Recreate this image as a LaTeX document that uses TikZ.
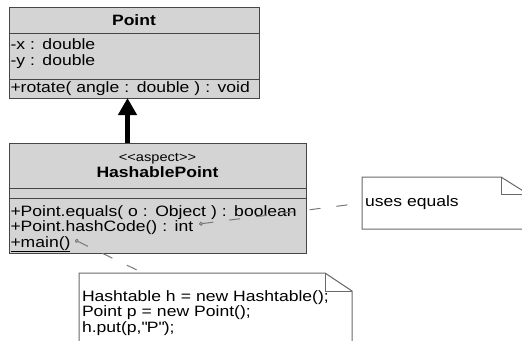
\documentclass[tikz,border=0pt]{standalone}
\usepackage{fontspec}
\usetikzlibrary{arrows.meta, positioning}
\newfontfamily\umlfont{Liberation Sans}[FakeStretch=1.17]
\newcommand\umlsize{\fontsize{15pt}{15.5pt}\selectfont}
\definecolor{classfill}{RGB}{212,212,212}
\definecolor{classline}{RGB}{70,70,70}
\definecolor{noteline}{RGB}{105,105,105}
\definecolor{linkgray}{RGB}{120,120,120}

\begin{document}
\begin{tikzpicture}[x=1pt, y=-1pt,
    part/.style={rectangle, draw=classline, fill=classfill, line width=1pt, outer sep=0pt,
        inner xsep=1.5pt, inner ysep=0pt, font=\umlfont\umlsize},
    notebox/.style={rectangle, outer sep=0pt, inner xsep=3pt, inner ysep=0pt, align=left,
        font=\umlfont\umlsize},
    noteline/.style={draw=noteline, line width=1pt},
    genarrow/.style={-{Triangle[width=18pt, length=17pt]}, line width=5pt},
    notelink/.style={{Circle[open, length=4pt, width=4pt]}-, draw=linkgray, line width=1pt,
        dash pattern=on 11pt off 16pt}]
    \clip (0,0) rectangle (522,340);

    % Point
    \node[part, text width=247pt, minimum height=26pt, align=center, anchor=north west] (pointname) at (9,7) {\bfseries Point};
    \node[part, text width=247pt, minimum height=46pt, align=left, text height=16.5pt, text depth=29.5pt, below=0pt of pointname] (pointattr) {-x : double\\-y : double};
    \node[part, text width=247pt, minimum height=19pt, align=left, below=0pt of pointattr] (pointops) {+rotate( angle : double ) : void};

    % HashablePoint
    \node[part, text width=294pt, minimum height=45pt, align=center, anchor=north west] (hashname) at (9,143)
        {{\fontsize{12.5pt}{13pt}\selectfont <<aspect>>}\\[1pt]\bfseries HashablePoint};
    \node[part, text width=294pt, minimum height=10pt, below=0pt of hashname] (hashattr) {};
    \node[part, text width=294pt, minimum height=55pt, align=left, text height=18pt, text depth=37pt, below=0pt of hashattr] (hashops)
        {+Point.equals( o : Object ) : boolean\\+Point.hashCode() : int\\\underline{+main()}};

    \coordinate (arrowx) at (127.5,0);
    \draw[genarrow] (hashname.north -| arrowx) -- (pointops.south -| arrowx);

    % notes
    \node[notebox, text width=160pt, minimum height=52pt, anchor=north west] (useseq) at (362,177) {uses equals};
    \draw[noteline] (useseq.north west) -- ([xshift=-27pt]useseq.north east) -- ([yshift=-17pt]useseq.north east)
        -- (useseq.south east) -- (useseq.south west) -- cycle;
    \draw[noteline] ([xshift=-27pt]useseq.north east) |- ([yshift=-17pt]useseq.north east);

    \node[notebox, text width=267pt, minimum height=90pt, text height=28pt, text depth=62pt, anchor=north west] (codenote) at (79,273)
        {Hashtable h = new Hashtable();\\Point p = new Point();\\h.put(p,\textquotedbl P\textquotedbl);};
    \draw[noteline] (codenote.north west) -- ([xshift=-27pt]codenote.north east) -- ([yshift=-18pt]codenote.north east)
        -- (codenote.south east) -- (codenote.south west) -- cycle;
    \draw[noteline] ([xshift=-27pt]codenote.north east) |- ([yshift=-18pt]codenote.north east);

    % anchors
    \coordinate (hashend) at (199,224);
    \coordinate (mainend) at (75,240);
    \coordinate (codetop) at (143,273);
    \draw[notelink] (hashend) -- (useseq.west);
    \draw[notelink] (mainend) -- (codetop);
\end{tikzpicture}
\end{document}
